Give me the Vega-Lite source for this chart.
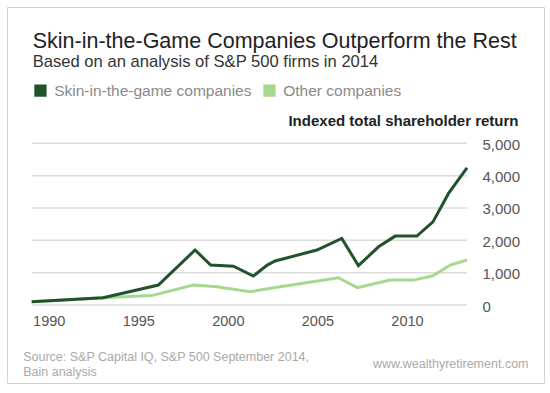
{
  "$schema": "https://vega.github.io/schema/vega-lite/v6.json",
  "width": 537,
  "height": 376,
  "autosize": {"type": "none"},
  "padding": {"left": 7, "top": 7, "right": 6, "bottom": 10},
  "background": "white",
  "config": {
    "font": "Liberation Sans",
    "view": {"stroke": "#d2d2d2", "strokeWidth": 1}
  },
  "title": {
    "text": "Skin-in-the-Game Companies Outperform the Rest",
    "subtitle": "Based on an analysis of S&P 500 firms in 2014",
    "anchor": "start",
    "frame": "group",
    "orient": "top",
    "offset": 0,
    "dx": 25.7,
    "dy": 64,
    "fontSize": 21.5,
    "fontWeight": "normal",
    "color": "#222222",
    "subtitleFontSize": 16.6,
    "subtitleColor": "#333333",
    "subtitlePadding": 2
  },
  "datasets": {
    "returns": [
      {"year": 1989.05, "value": 100, "series": "Other companies"},
      {"year": 1993.04, "value": 225, "series": "Other companies"},
      {"year": 1995.75, "value": 290, "series": "Other companies"},
      {"year": 1998.07, "value": 617, "series": "Other companies"},
      {"year": 1999.38, "value": 565, "series": "Other companies"},
      {"year": 2001.24, "value": 410, "series": "Other companies"},
      {"year": 2002.92, "value": 565, "series": "Other companies"},
      {"year": 2006.17, "value": 843, "series": "Other companies"},
      {"year": 2007.23, "value": 535, "series": "Other companies"},
      {"year": 2009.06, "value": 770, "series": "Other companies"},
      {"year": 2010.36, "value": 770, "series": "Other companies"},
      {"year": 2011.45, "value": 905, "series": "Other companies"},
      {"year": 2012.41, "value": 1235, "series": "Other companies"},
      {"year": 2013.35, "value": 1390, "series": "Other companies"},
      {"year": 1989.05, "value": 100, "series": "Skin-in-the-game companies"},
      {"year": 1993.04, "value": 225, "series": "Skin-in-the-game companies"},
      {"year": 1996.12, "value": 617, "series": "Skin-in-the-game companies"},
      {"year": 1998.17, "value": 1700, "series": "Skin-in-the-game companies"},
      {"year": 1999.04, "value": 1235, "series": "Skin-in-the-game companies"},
      {"year": 2000.31, "value": 1200, "series": "Skin-in-the-game companies"},
      {"year": 2001.42, "value": 895, "series": "Skin-in-the-game companies"},
      {"year": 2002.2, "value": 1235, "series": "Skin-in-the-game companies"},
      {"year": 2002.64, "value": 1360, "series": "Skin-in-the-game companies"},
      {"year": 2004.97, "value": 1700, "series": "Skin-in-the-game companies"},
      {"year": 2006.36, "value": 2060, "series": "Skin-in-the-game companies"},
      {"year": 2007.29, "value": 1215, "series": "Skin-in-the-game companies"},
      {"year": 2008.41, "value": 1800, "series": "Skin-in-the-game companies"},
      {"year": 2009.34, "value": 2130, "series": "Skin-in-the-game companies"},
      {"year": 2010.55, "value": 2130, "series": "Skin-in-the-game companies"},
      {"year": 2011.45, "value": 2570, "series": "Skin-in-the-game companies"},
      {"year": 2012.32, "value": 3450, "series": "Skin-in-the-game companies"},
      {"year": 2013.35, "value": 4240, "series": "Skin-in-the-game companies"}
    ],
    "grid": [
      {"level": 0}, {"level": 1000}, {"level": 2000},
      {"level": 3000}, {"level": 4000}, {"level": 5000}
    ]
  },
  "resolve": {"axis": {"y": "independent"}},
  "layer": [
    {
      "data": {"name": "grid"},
      "mark": {"type": "rule", "color": "#dcdcdc", "strokeWidth": 1.5},
      "encoding": {
        "y": {
          "field": "level",
          "type": "quantitative",
          "scale": {"domain": [0, 5000], "range": [298, 136.3], "nice": false, "zero": false},
          "axis": {
            "orient": "left",
            "labels": false,
            "ticks": false,
            "domain": false,
            "grid": false,
            "title": "www.wealthyretirement.com",
            "titleAngle": 0,
            "titleAlign": "right",
            "titleBaseline": "alphabetic",
            "titleX": 521,
            "titleY": 360,
            "titleFontSize": 12.5,
            "titleFontWeight": "normal",
            "titleColor": "#aaaaaa"
          }
        },
        "x": {"datum": 1989.05, "type": "quantitative"},
        "x2": {"datum": 2013.35}
      }
    },
    {
      "data": {"name": "returns"},
      "mark": {"type": "line", "strokeWidth": 3},
      "encoding": {
        "x": {
          "field": "year",
          "type": "quantitative",
          "scale": {"domain": [1989.05, 2013.35], "range": [24.7, 460], "nice": false, "zero": false},
          "axis": {
            "orient": "bottom",
            "values": [1990, 1995, 2000, 2005, 2010],
            "format": "d",
            "grid": false,
            "domain": false,
            "ticks": false,
            "offset": -69,
            "labelPadding": 0,
            "labelBaseline": "top",
            "labelFontSize": 14.5,
            "labelColor": "#555555",
            "title": ["Source: S&P Capital IQ, S&P 500 September 2014,", "Bain analysis"],
            "titleAlign": "left",
            "titleAnchor": "start",
            "titleBaseline": "alphabetic",
            "titleX": 15.7,
            "titleY": 46.7,
            "titleLineHeight": 15,
            "titleFontSize": 12.5,
            "titleFontWeight": "normal",
            "titleColor": "#aaaaaa"
          }
        },
        "y": {
          "field": "value",
          "type": "quantitative",
          "scale": {"domain": [0, 5000], "range": [298, 136.3], "nice": false, "zero": false},
          "axis": {
            "orient": "right",
            "values": [0, 1000, 2000, 3000, 4000, 5000],
            "format": ",d",
            "grid": false,
            "domain": false,
            "ticks": false,
            "offset": -62,
            "labelPadding": 0,
            "labelAlign": "left",
            "labelBaseline": "middle",
            "labelOffset": 1,
            "labelFontSize": 15,
            "labelColor": "#555555",
            "title": "Indexed total shareholder return",
            "titleAngle": 0,
            "titleAlign": "right",
            "titleBaseline": "alphabetic",
            "titleX": 36,
            "titleY": 118,
            "titleFontSize": 15,
            "titleFontWeight": "bold",
            "titleColor": "#222222"
          }
        },
        "color": {
          "field": "series",
          "type": "nominal",
          "scale": {
            "domain": ["Skin-in-the-game companies", "Other companies"],
            "range": ["#22522b", "#a6d98f"]
          },
          "legend": {
            "orient": "none",
            "legendX": 25.7,
            "legendY": 75.5,
            "direction": "horizontal",
            "title": null,
            "padding": 0,
            "symbolType": "square",
            "symbolSize": 150,
            "symbolStrokeWidth": 0,
            "labelFontSize": 15.5,
            "labelLimit": 400,
            "labelColor": "#8a8a8a",
            "labelOffset": 6,
            "columnPadding": 10,
            "encode": {
              "symbols": {"update": {"fill": {"scale": "color", "field": "value"}, "strokeWidth": {"value": 0}}}
            }
          }
        }
      }
    }
  ]
}
